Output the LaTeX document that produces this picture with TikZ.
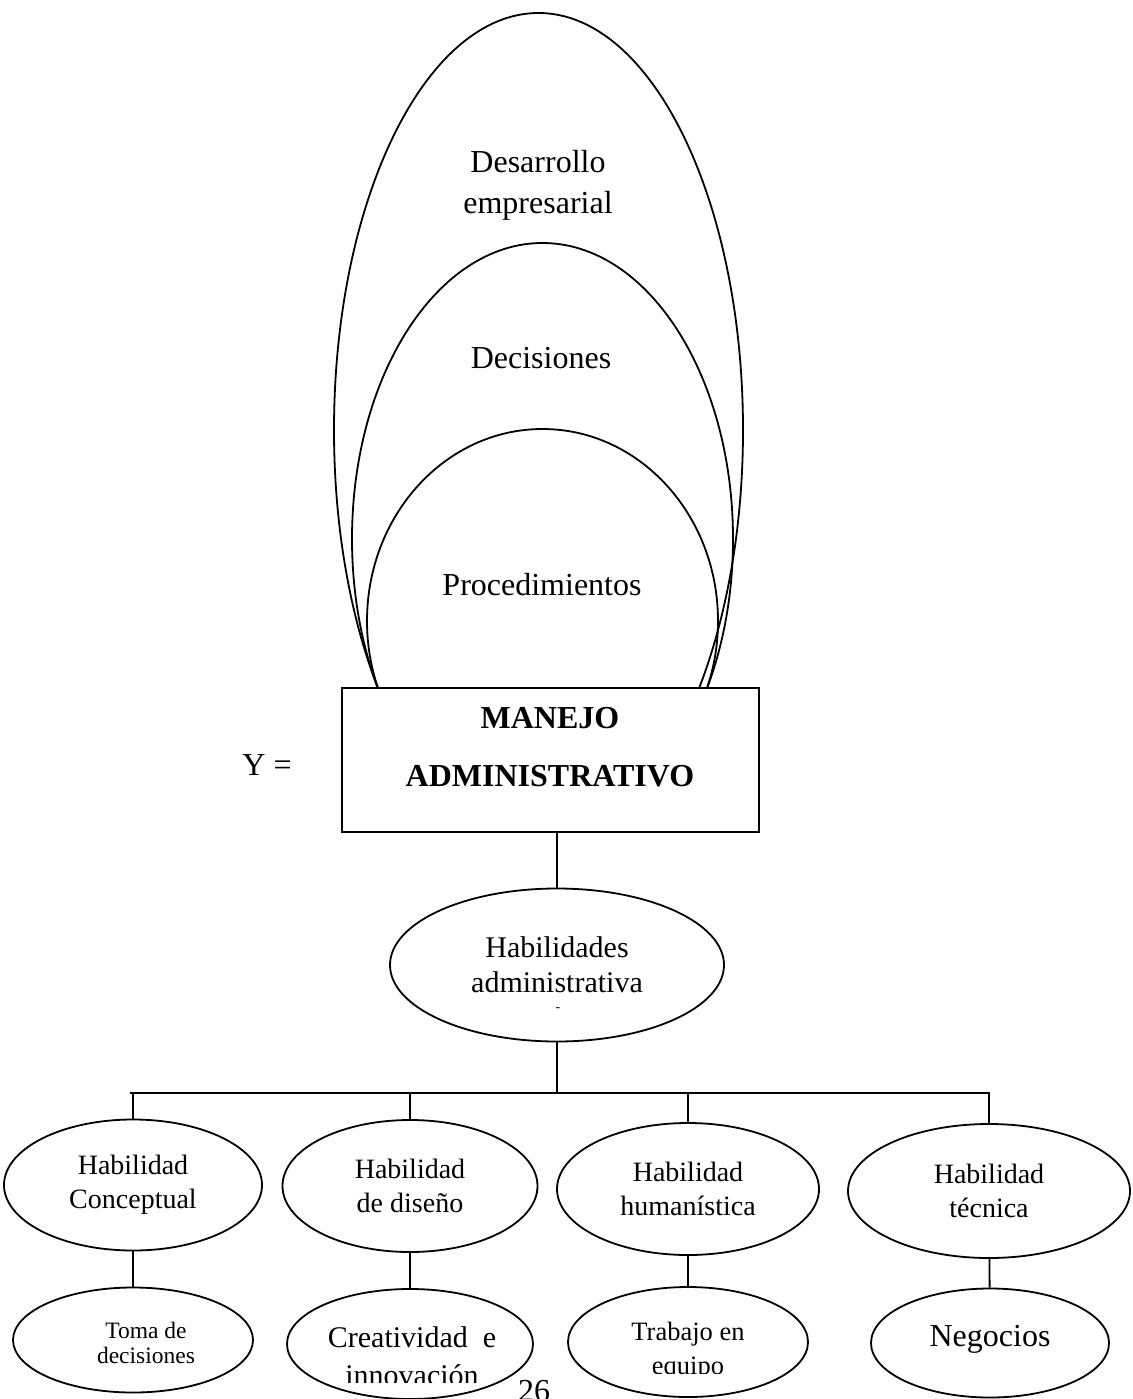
\documentclass[tikz,border=0pt]{standalone}
\usepackage{fontspec}
\setmainfont{Liberation Serif}
\usetikzlibrary{shapes.geometric,positioning}
\newcommand{\fs}[2]{\fontsize{#1}{#2}\selectfont}
\tikzset{
    myline/.style={line width=1.8pt,draw=black},
    myoval/.style={ellipse,draw=black,line width=1.8pt,inner sep=0pt,align=center},
    mybox/.style={rectangle,draw=black,line width=1.8pt,inner sep=0pt},
    mytext/.style={align=center,inner sep=0pt,anchor=base},
    every node/.style={font=\fs{32}{40}}
}

\begin{document}
\begin{tikzpicture}[x=1pt,y=-1pt]
  \useasboundingbox (0,0) rectangle (1132,1399);

  % elipses superiores
  \begin{scope}
    \clip (0,0) rectangle (1132,688);
    \draw[myline] (538.5,430) ellipse [x radius=204.5pt,y radius=417pt];
    \draw[myline] (542.5,539) ellipse [x radius=190.5pt,y radius=296pt];
    \draw[myline] (542.5,621) ellipse [x radius=175.5pt,y radius=192pt];
  \end{scope}

  \node[mytext] (desarrollo) at (538,213) {Desarrollo\\empresarial};
  \node[mytext] (decisiones) at (541,368) {Decisiones};
  \node[mytext] (procedim) at (542,595) {Procedimientos};

  % caja central
  \node[mybox,fill=white,minimum width=417pt,minimum height=144pt]
    (manejo) at (550.5,760) {};
  \node[mytext,font=\bfseries\fs{32}{58}]
    (manejoTxt) at (550,786) {MANEJO\\ADMINISTRATIVO};
  \node[mytext] (igual) at (267,775) {Y =};

  % habilidades
  \node[myoval,minimum width=334pt,minimum height=153pt,font=\fs{30}{35}]
    (hab) at (557,965) {Habilidades\\administrativa};
  \node[inner sep=0pt,font=\fs{14}{14}] (habDash) at (558,1010) {-};

  \draw[myline] (hab.north) -- (hab.north |- manejo.south);

  \coordinate (busL) at (130,1093);
  \coordinate (busR) at (990,1093);
  \draw[myline] (hab.south) -- (hab.south |- busL);
  \draw[myline] (busL) -- (busR);

  % tipos de habilidad
  \node[myoval,minimum width=258pt,minimum height=131pt,font=\fs{28}{34}]
    (hConc) at (133,1185) {Habilidad\\Conceptual};
  \node[myoval,minimum width=255pt,minimum height=132pt,font=\fs{28}{34}]
    (hDis) at (410,1186) {Habilidad\\de diseño};
  \node[myoval,minimum width=262pt,minimum height=132pt,font=\fs{28}{34}]
    (hHum) at (688,1189) {Habilidad\\humanística};
  \node[myoval,minimum width=282pt,minimum height=134pt,font=\fs{28}{34}]
    (hTec) at (989,1191) {Habilidad\\técnica};

  \foreach \h in {hConc,hDis,hHum,hTec}
    \draw[myline] (\h.north |- busL) -- (\h.north);

  % resultados
  \node[myoval,minimum width=240pt,minimum height=105pt] (bToma) at (133,1340) {};
  \node[myoval,minimum width=246pt,minimum height=110pt] (bCrea) at (410,1344) {};
  \node[myoval,minimum width=240pt,minimum height=110pt] (bTrab) at (688,1342) {};
  \node[myoval,minimum width=238pt,minimum height=109pt] (bNeg) at (990,1343) {};

  \draw[myline] (hConc) -- (bToma);
  \draw[myline] (hDis) -- (bCrea);
  \draw[myline] (hHum) -- (bTrab);
  \draw[myline] (hTec) -- (bNeg);

  \node[mytext,font=\fs{23.5}{25}] (tomaTxt) at (146,1363) {Toma de\\decisiones};
  \begin{scope}
    \clip (0,0) rectangle (560,1382);
    \node[mytext,font=\fs{30}{38}] (creaTxt) at (412,1385) {Creatividad\ \ e\\innovación};
  \end{scope}
  \begin{scope}
    \clip (560,0) rectangle (860,1373);
    \node[mytext,font=\fs{26.5}{34}] (trabTxt) at (688,1374) {Trabajo en\\equipo};
  \end{scope}
  \node[mytext] (negTxt) at (990,1346) {Negocios};

  \node[mytext] (pagina) at (534,1401) {26};
\end{tikzpicture}
\end{document}
